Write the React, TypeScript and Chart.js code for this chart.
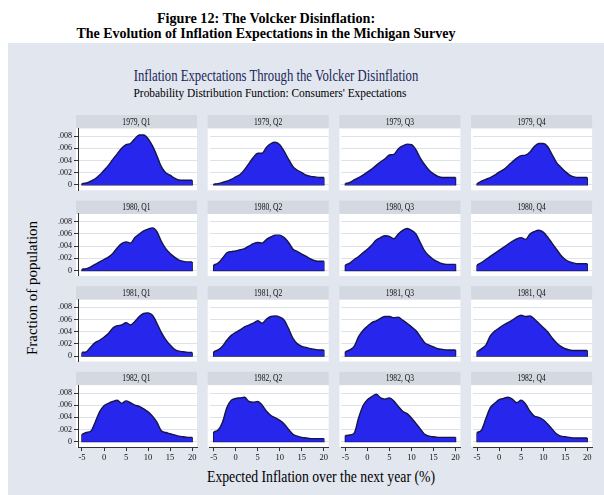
import React, { useEffect, useRef } from "react";
import { Chart, registerables } from "chart.js";

Chart.register(...registerables);

// ---------- DATA ----------
// Expected inflation grid (%), x axis
const xGrid = [-5, -4, -3, -2, -1, 0, 1, 2, 3, 4, 5, 6, 7, 8, 9, 10, 11, 12, 13, 14, 15, 16, 17, 18, 19, 20];

const panelLabels = [
  "1979, Q1", "1979, Q2", "1979, Q3", "1979, Q4",
  "1980, Q1", "1980, Q2", "1980, Q3", "1980, Q4",
  "1981, Q1", "1981, Q2", "1981, Q3", "1981, Q4",
  "1982, Q1", "1982, Q2", "1982, Q3", "1982, Q4",
];

// Fraction of population, in thousandths (0.001 units)
const q1979_1 = [0.2, 0.3, 0.6, 1.0, 1.6, 2.4, 3.2, 4.2, 5.1, 6.0, 6.6, 6.8, 7.6, 8.2, 8.2, 7.6, 6.4, 4.8, 3.0, 2.0, 1.6, 1.1, 0.8, 0.75, 0.75, 0.75];
const q1979_2 = [0.1, 0.2, 0.4, 0.6, 0.9, 1.3, 1.7, 2.5, 3.5, 4.5, 5.2, 5.2, 6.2, 6.8, 7.0, 6.6, 5.5, 4.2, 3.0, 2.4, 2.0, 1.6, 1.4, 1.3, 1.2, 1.2];
const q1979_3 = [0.2, 0.4, 0.8, 1.2, 1.6, 2.1, 2.6, 3.2, 3.8, 4.3, 4.9, 5.0, 5.9, 6.4, 6.7, 6.6, 5.8, 4.4, 3.3, 2.4, 1.8, 1.4, 1.2, 1.2, 1.2, 1.2];
const q1979_4 = [0.2, 0.6, 0.9, 1.2, 1.6, 2.1, 2.5, 3.1, 3.8, 4.4, 4.8, 4.9, 5.4, 6.3, 6.8, 6.8, 6.3, 5.0, 3.7, 2.9, 2.2, 1.6, 1.3, 1.2, 1.2, 1.2];
const q1980_1 = [0.2, 0.3, 0.6, 1.0, 1.4, 1.8, 2.2, 2.8, 3.7, 4.4, 4.7, 4.5, 5.4, 6.0, 6.5, 6.8, 7.0, 6.4, 4.8, 3.6, 2.8, 2.2, 1.7, 1.5, 1.4, 1.4];
const q1980_2 = [0.9, 1.2, 2.0, 2.9, 3.1, 3.2, 3.4, 3.6, 4.0, 4.4, 4.6, 4.5, 5.1, 5.5, 5.8, 5.8, 5.4, 4.6, 3.5, 3.1, 2.7, 2.3, 1.9, 1.6, 1.5, 1.5];
const q1980_3 = [0.9, 1.2, 1.8, 2.3, 2.9, 3.5, 4.2, 5.0, 5.4, 5.7, 5.6, 5.2, 6.0, 6.6, 6.9, 6.6, 6.0, 4.6, 3.2, 2.4, 1.8, 1.4, 1.1, 1.0, 1.0, 1.0];
const q1980_4 = [0.9, 1.3, 1.8, 2.3, 2.8, 3.3, 3.8, 4.3, 4.8, 5.2, 5.4, 5.1, 6.0, 6.4, 6.6, 6.3, 5.5, 4.5, 3.5, 2.5, 1.8, 1.4, 1.2, 1.1, 1.1, 1.1];
const q1981_1 = [0.6, 0.7, 1.5, 2.2, 2.6, 3.1, 3.7, 4.6, 5.0, 5.1, 5.5, 5.1, 5.7, 6.5, 7.0, 7.1, 6.7, 5.4, 3.9, 2.7, 1.8, 1.1, 0.8, 0.7, 0.6, 0.6];
const q1981_2 = [0.7, 1.0, 1.6, 2.6, 3.4, 3.9, 4.3, 4.8, 5.1, 5.4, 5.8, 5.4, 6.1, 6.5, 6.6, 6.4, 5.9, 4.5, 2.9, 2.0, 1.6, 1.4, 1.2, 1.1, 1.0, 1.0];
const q1981_3 = [0.7, 1.0, 1.6, 3.2, 4.2, 4.9, 5.5, 5.8, 6.2, 6.5, 6.5, 6.3, 6.4, 5.9, 5.4, 4.8, 4.2, 3.2, 2.2, 1.8, 1.5, 1.2, 1.1, 1.0, 1.0, 1.0];
const q1981_4 = [0.7, 1.2, 1.8, 3.3, 4.1, 4.6, 5.1, 5.5, 5.9, 6.4, 6.7, 6.5, 6.6, 6.1, 5.4, 4.7, 4.0, 3.0, 2.2, 1.6, 1.2, 1.0, 0.9, 0.9, 0.9, 0.9];
const q1982_1 = [1.2, 1.5, 1.7, 3.2, 4.9, 5.9, 6.3, 6.6, 6.8, 6.3, 6.7, 6.4, 6.0, 5.8, 5.4, 4.9, 4.2, 3.2, 1.8, 1.5, 1.3, 1.1, 0.9, 0.8, 0.7, 0.7];
const q1982_2 = [1.6, 1.9, 3.2, 5.6, 6.8, 7.1, 7.2, 7.3, 6.6, 6.5, 6.6, 6.0, 5.0, 4.3, 3.9, 3.5, 2.9, 2.0, 1.2, 0.9, 0.7, 0.6, 0.5, 0.5, 0.5, 0.5];
const q1982_3 = [1.0, 1.1, 1.4, 3.9, 5.9, 6.9, 7.4, 7.8, 7.2, 7.0, 7.2, 6.7, 5.8, 5.0, 4.6, 3.9, 3.0, 2.1, 1.2, 0.9, 0.8, 0.7, 0.7, 0.7, 0.7, 0.7];
const q1982_4 = [1.5, 1.9, 3.8, 5.6, 6.3, 6.9, 7.1, 7.3, 7.0, 6.4, 6.8, 6.2, 5.0, 4.2, 4.0, 3.6, 2.9, 2.1, 1.3, 0.9, 0.8, 0.7, 0.6, 0.6, 0.6, 0.6];

const panelSeries = [
  q1979_1, q1979_2, q1979_3, q1979_4,
  q1980_1, q1980_2, q1980_3, q1980_4,
  q1981_1, q1981_2, q1981_3, q1981_4,
  q1982_1, q1982_2, q1982_3, q1982_4,
];

// y tick values in thousandths, with their labels as fractions
const yTickValues = [0, 2, 4, 6, 8];
const yTickLabels = ["0", ".002", ".004", ".006", ".008"];
const xTickValues = [-5, 0, 5, 10, 15, 20];
const xTickLabels = ["-5", "0", "5", "10", "15", "20"];

// ---------- STYLE ----------
const SERIF = '"Liberation Serif", "Times New Roman", serif';
const FILL = "rgb(38,38,236)";
const LINE = "rgb(22,22,72)";
const HEADER = "#d4d8e1";
const GRID = "#dde1e9";
const BG = "#e2e6ef";

const measureCanvas = typeof document !== "undefined" ? document.createElement("canvas") : null;
function measure(text: string, font: string): number {
  if (!measureCanvas) return 1;
  const ctx = measureCanvas.getContext("2d")!;
  ctx.font = font;
  return ctx.measureText(text).width;
}

function FitText(props: {
  text: string; cx: number; baseline: number; size: number; width: number;
  bold?: boolean; color?: string;
}) {
  const { text, cx, baseline, size, width, bold, color } = props;
  const font = `${bold ? "bold " : ""}${size}px ${SERIF}`;
  const k = width / measure(text, font);
  return (
    <div
      style={{
        position: "absolute",
        left: cx,
        top: baseline - 0.8375 * size,
        font,
        lineHeight: `${size}px`,
        whiteSpace: "nowrap",
        color: color || "#000",
        transform: `translateX(-50%) scaleX(${k})`,
      }}
    >
      {text}
    </div>
  );
}

function Panel({ idx }: { idx: number }) {
  const ref = useRef<HTMLCanvasElement>(null);
  useEffect(() => {
    const r = Math.floor(idx / 4);
    const c = idx % 4;
    const left = 78 + c * 131.7;
    const width = 119;
    const top = 128.3 + r * 85.6;
    const height = 62;
    const yW = 30;
    const xH = 22;
    const values = panelSeries[idx];
    const last = xGrid.length - 1;
    const pts = xGrid.map((x, i) => ({ x, y: values[i] }));
    const edge = [
      { x: xGrid[0], y: values[0] },
      { x: xGrid[0], y: 0 },
      { x: xGrid[last], y: 0 },
      { x: xGrid[last], y: values[last] },
    ];
    const label = panelLabels[idx];
    const bgPlugin = {
      id: "panelBg" + idx,
      beforeDraw(chart: any) {
        const { ctx, chartArea: a } = chart;
        ctx.save();
        ctx.fillStyle = "#ffffff";
        ctx.fillRect(a.left - 2, a.top, a.right - a.left + 2, a.bottom - a.top);
        ctx.fillStyle = HEADER;
        ctx.fillRect(a.left - 2, a.top - 13.3, a.right - a.left + 2, 13.3);
        ctx.fillStyle = "#111";
        ctx.font = `9.5px ${SERIF}`;
        ctx.textAlign = "center";
        ctx.textBaseline = "middle";
        ctx.translate((a.left - 2 + a.right) / 2, a.top - 6.3);
        ctx.scale(0.8, 1);
        ctx.fillText(label, 0, 0);
        ctx.restore();
      },
    };
    const chart = new Chart(ref.current!, {
      type: "scatter",
      data: {
        datasets: [
          {
            data: pts,
            showLine: true,
            fill: "origin",
            backgroundColor: FILL,
            borderColor: LINE,
            borderWidth: 1.4,
            pointRadius: 0,
            cubicInterpolationMode: "monotone",
          },
          {
            data: edge,
            showLine: true,
            fill: false,
            borderColor: LINE,
            borderWidth: 1.4,
            pointRadius: 0,
            tension: 0,
          },
        ],
      } as any,
      options: {
        responsive: false,
        animation: false,
        events: [],
        layout: {
          padding: {
            left: left - yW,
            top: top,
            right: 604 - left - width,
            bottom: 495 - top - height - xH,
          },
        },
        plugins: {
          legend: { display: false },
          tooltip: { enabled: false },
          title: { display: false },
        },
        scales: {
          x: {
            type: "linear",
            min: -5.9,
            max: 21.1,
            afterBuildTicks: (s: any) => {
              s.ticks = xTickValues.map((v) => ({ value: v }));
            },
            afterFit: (s: any) => {
              s.height = xH;
            },
            ticks: {
              display: r === 3,
              autoSkip: false,
              maxRotation: 0,
              padding: 2,
              color: "#111",
              font: { family: SERIF, size: 8.5 },
              callback: (_v: any, i: number) => xTickLabels[i],
            },
            grid: {
              display: r === 3,
              drawOnChartArea: false,
              drawTicks: true,
              tickLength: 4,
              tickColor: "#333",
            },
            border: { display: r === 3, color: "#333", width: 1 },
          },
          y: {
            type: "linear",
            min: -0.9,
            max: 9.3,
            afterBuildTicks: (s: any) => {
              s.ticks = yTickValues.map((v) => ({ value: v }));
            },
            afterFit: (s: any) => {
              s.width = yW;
            },
            ticks: {
              display: c === 0,
              padding: 2,
              color: "#111",
              font: { family: SERIF, size: 8 },
              callback: (_v: any, i: number) => yTickLabels[i],
            },
            grid: {
              color: GRID,
              lineWidth: 1,
              drawTicks: c === 0,
              tickLength: 4,
              tickColor: "#333",
            },
            border: { display: c === 0, color: "#333", width: 1 },
          },
        },
      } as any,
      plugins: [bgPlugin],
    });
    return () => chart.destroy();
  }, [idx]);
  return (
    <canvas
      ref={ref}
      width={604}
      height={495}
      style={{ position: "absolute", left: 0, top: 0, width: 604, height: 495 }}
    />
  );
}

export default function App() {
  return (
    <div
      style={{
        position: "fixed",
        left: 0,
        top: 0,
        width: 604,
        height: 495,
        background: "#fff",
        overflow: "hidden",
        fontFamily: SERIF,
      }}
    >
      <FitText text="Figure 12: The Volcker Disinflation:" cx={266} baseline={23.5} size={14.5} width={219} bold />
      <FitText text="The Evolution of Inflation Expectations in the Michigan Survey" cx={266} baseline={38.5} size={14.5} width={379} bold />
      <div style={{ position: "absolute", left: 8, top: 43, width: 596, height: 452, background: BG }} />
      <FitText text="Inflation Expectations Through the Volcker Disinflation" cx={276} baseline={82} size={17.5} width={285} color="#1a2859" />
      <FitText text="Probability Distribution Function: Consumers' Expectations" cx={270} baseline={97} size={13} width={273} />
      <FitText text="Expected Inflation over the next year (%)" cx={321} baseline={482} size={16} width={228} />
      <div
        style={{
          position: "absolute",
          left: 32,
          top: 288,
          font: `15px ${SERIF}`,
          lineHeight: "15px",
          whiteSpace: "nowrap",
          color: "#000",
          transform: "translate(-50%, -50%) rotate(-90deg)",
        }}
      >
        Fraction of population
      </div>
      {panelSeries.map((_, i) => (
        <Panel key={i} idx={i} />
      ))}
    </div>
  );
}
